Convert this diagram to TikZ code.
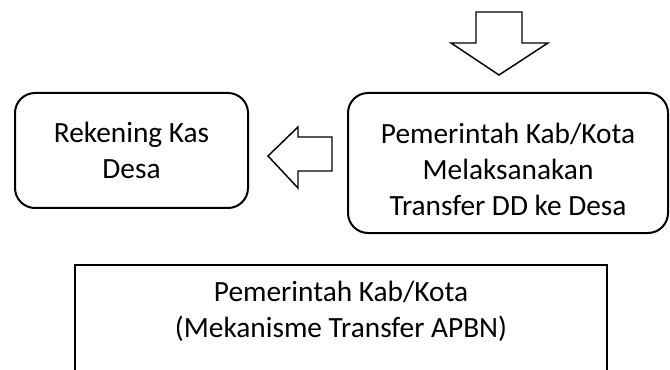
\documentclass[tikz,border=0pt]{standalone}
\usepackage{fontspec}
\setmainfont{Carlito}

\begin{document}
\begin{tikzpicture}[x=0.75pt,y=-0.75pt]
\tikzstyle{roundbox}=[rectangle,draw,line width=1.5pt,rounded corners=15pt,align=center,font=\fontsize{22}{27}\selectfont,inner sep=0pt]
\tikzstyle{plainbox}=[rectangle,draw,line width=1.5pt,align=center,font=\fontsize{22}{27}\selectfont,inner xsep=0pt,inner ysep=12pt]
\tikzstyle{blockarrow}=[draw,line width=1.1pt,line join=miter,fill=white]
\clip (0,0) rectangle (670,370);
\node [roundbox,minimum width=174.75pt,minimum height=86.25pt] (kas) at (131.5,150.5) {Rekening Kas\\Desa};
\node [roundbox,minimum width=240pt,minimum height=105pt,text height=79pt] (pemkab) at (508,163) {Pemerintah Kab/Kota\\Melaksanakan\\Transfer DD ke Desa};
\node [plainbox,minimum width=399pt,text depth=100pt,anchor=north] (apbn) at (341,264) {Pemerintah Kab/Kota\\(Mekanisme Transfer APBN)};
% arrow coming down into pemkab
\draw [blockarrow] (476,12) -- (522,12) -- (522,43) -- (548,43) -- (499,75) -- (451,43) -- (476,43) -- cycle;
% arrow from pemkab to kas
\draw [blockarrow] (332,137) -- (298,137) -- (298,127) -- (268,156) -- (298,188) -- (298,171) -- (332,171) -- cycle;
\end{tikzpicture}
\end{document}
